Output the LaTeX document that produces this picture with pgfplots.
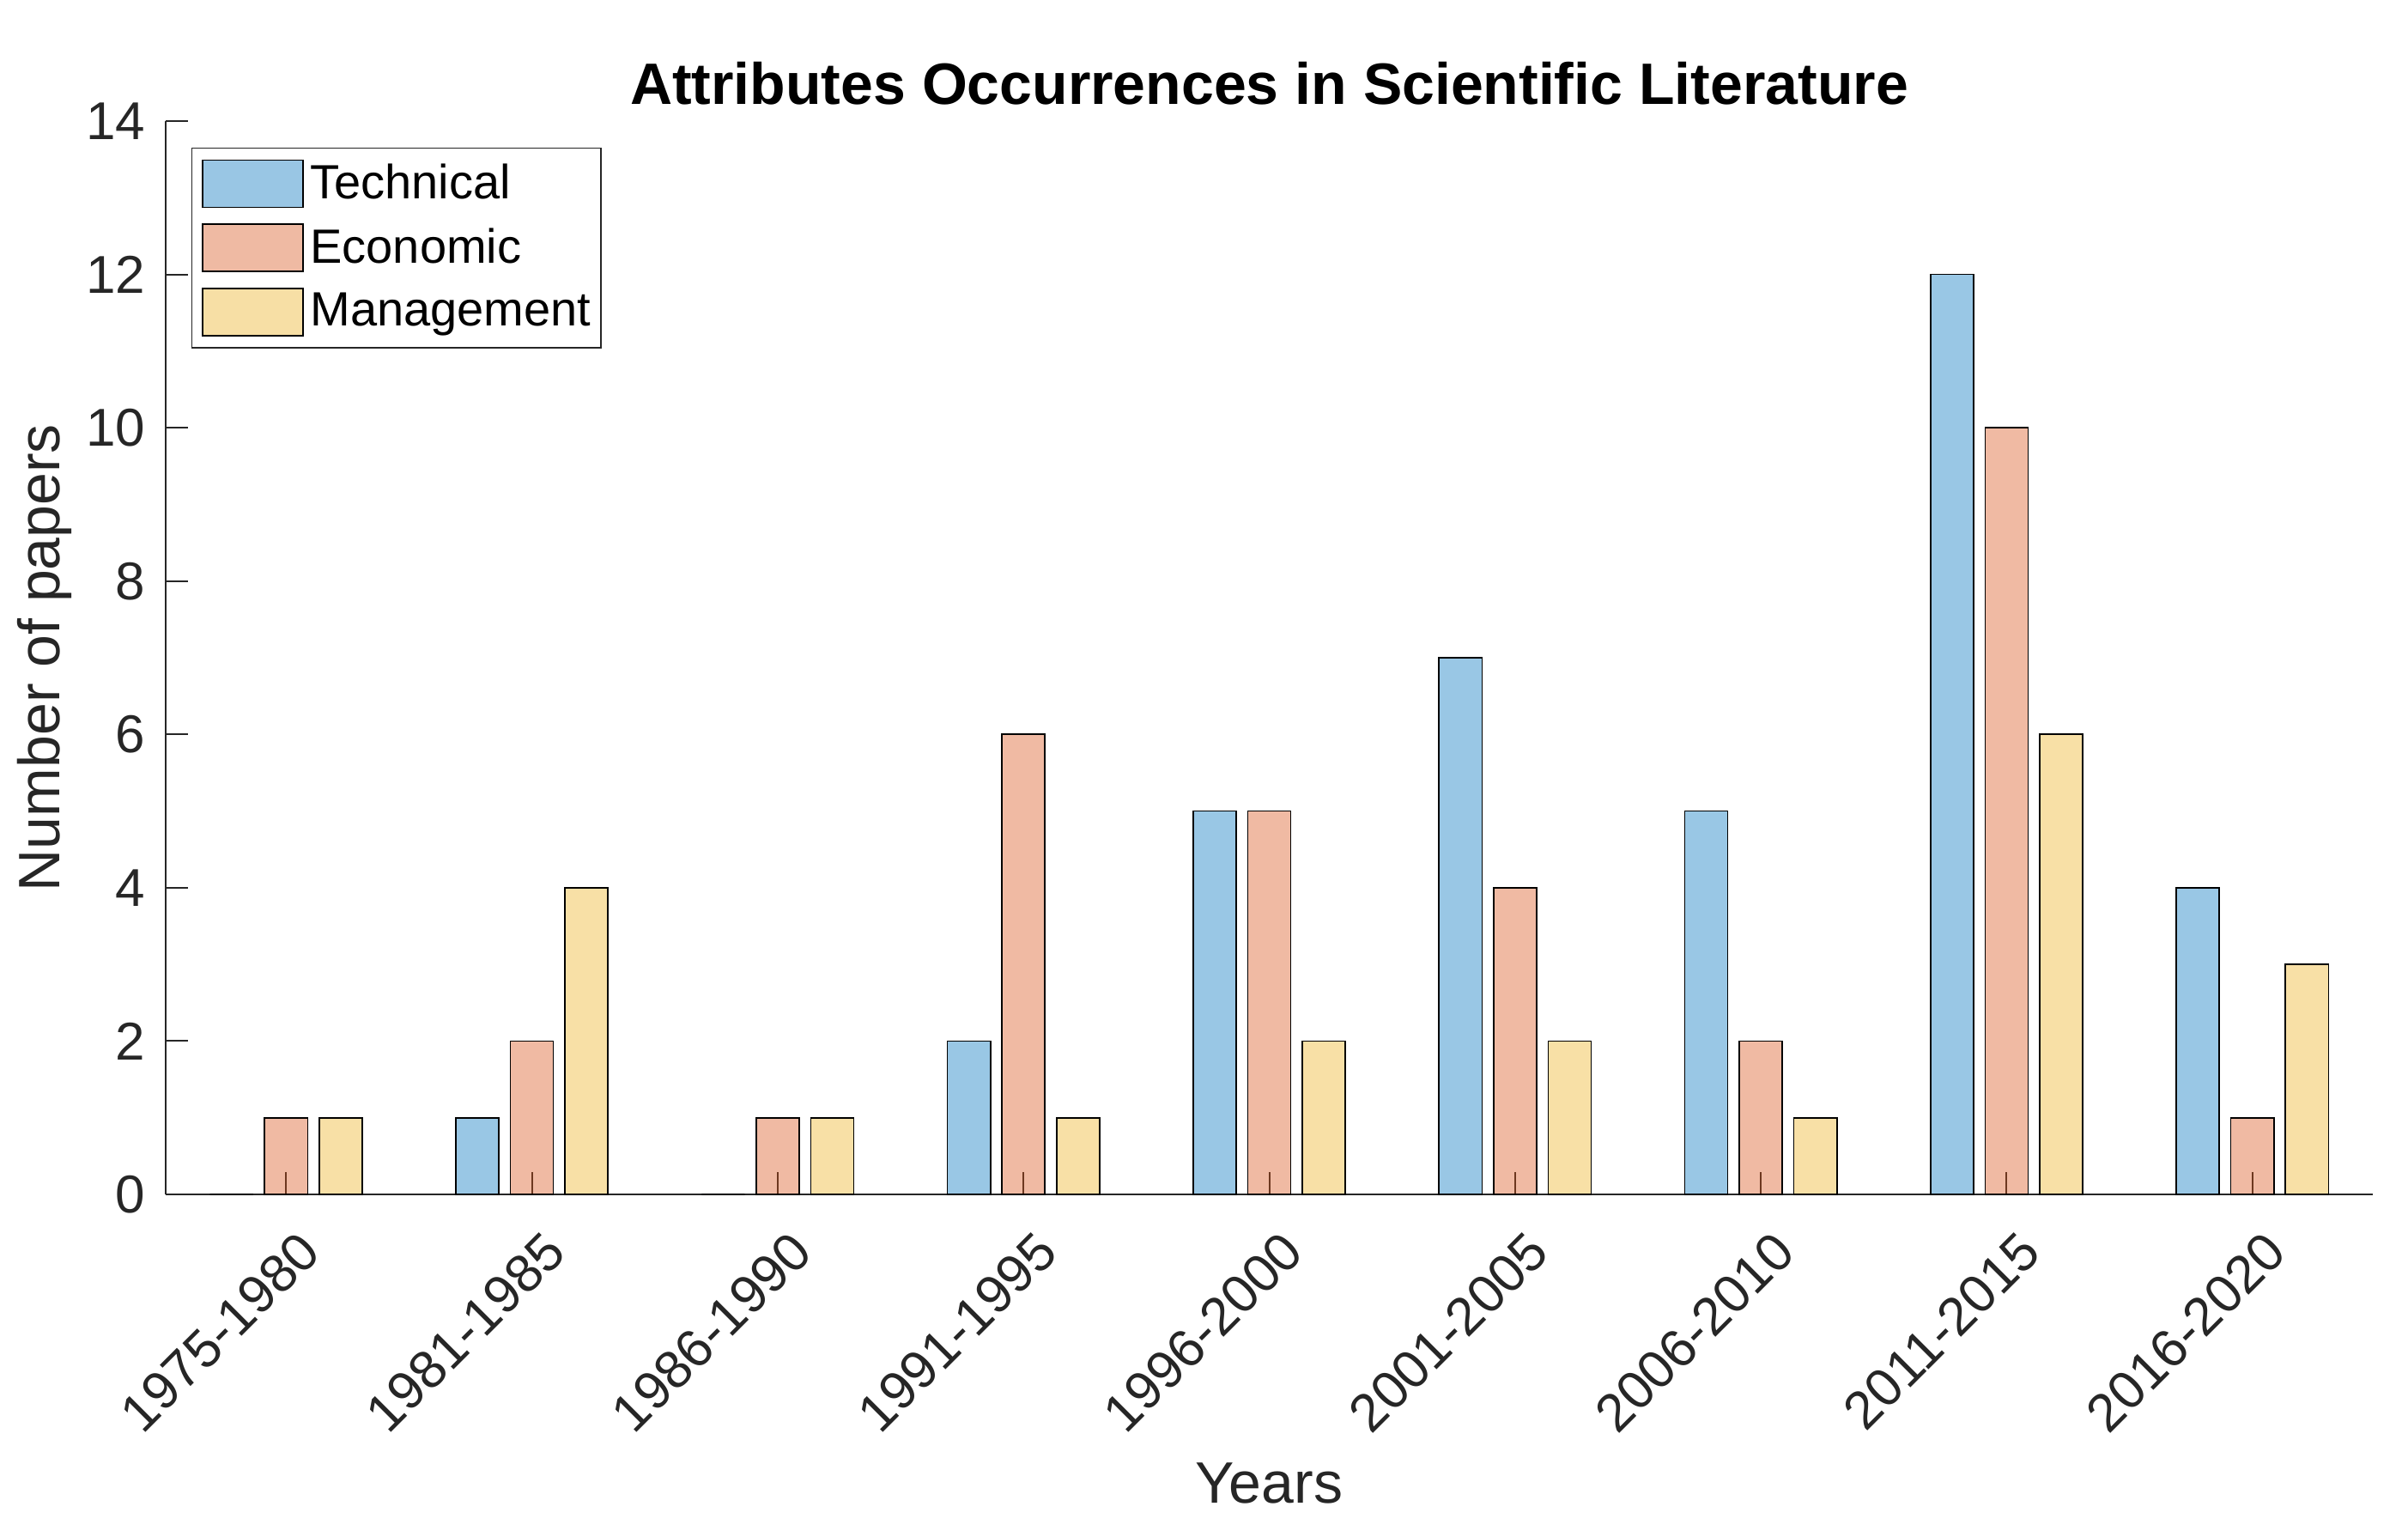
\documentclass[border=0pt]{standalone}
\usepackage{fontspec}
\setmainfont{Liberation Sans}
\usepackage{pgfplots}
\usepackage{pgfplotstable}
\pgfplotsset{compat=1.18}

\definecolor{axgray}{RGB}{38,38,38}
\definecolor{mblue}{RGB}{0,114,189}
\definecolor{morange}{RGB}{217,83,25}
\definecolor{myellow}{RGB}{237,177,32}

% papers per five-year period
\pgfplotstableread{
idx tech econ mgmt
1   0    1    1
2   1    2    4
3   0    1    1
4   2    6    1
5   5    5    2
6   7    4    2
7   5    2    1
8   12   10   6
9   4    1    3
}\papers

\begin{document}
\begin{tikzpicture}
\begin{axis}[
  name=ax,
  scale only axis,
  width=642.75pt, height=312.5pt,
  xmin=0.51, xmax=9.49,
  ymin=0, ymax=14,
  ytick={0,2,...,14},
  xtick={1,...,9},
  xticklabels={1975-1980,1981-1985,1986-1990,1991-1995,1996-2000,2001-2005,2006-2010,2011-2015,2016-2020},
  axis x line*=bottom, axis y line*=left,
  axis line style={-, draw=axgray, line width=0.5pt},
  tick align=inside,
  major tick length=6.5pt,
  tick style={draw=axgray, line width=0.5pt},
  /pgf/number format/assume math mode=true,
  tick label style={font=\fontsize{15.5}{18}\selectfont, text=axgray},
  yticklabel style={anchor=east, inner sep=0pt, xshift=-5.75pt},
  xticklabel style={inner sep=0pt, xshift=7pt, yshift=-13.75pt, rotate=45, anchor=east},
  title={Attributes Occurrences in Scientific Literature},
  title style={at={(axis description cs:0.5,1)}, anchor=base, yshift=-1.25pt,
    inner sep=0pt, font=\fontsize{17}{20}\selectfont\bfseries},
  xlabel={Years},
  xlabel style={at={(axis description cs:0.5,0)}, anchor=base, yshift=-89.75pt,
    inner sep=0pt, text=axgray, font=\fontsize{17}{20}\selectfont},
  ylabel={Number of papers},
  ylabel style={at={(axis description cs:-0.0482,0.5)}, anchor=base,
    inner sep=0pt, text=axgray, font=\fontsize{17}{20}\selectfont},
  legend cell align=left,
  legend image code/.code={\draw[#1] (0pt,-6.875pt) rectangle (29.25pt,6.875pt);},
  legend style={at={(axis description cs:0.01167,0.9752)}, anchor=north west,
    draw=axgray, line width=0.35pt, fill=white,
    inner xsep=2.9pt, inner ysep=3.3pt, row sep=4.5pt, column sep=1.9pt,
    font=\fontsize{14}{16}\selectfont, nodes={inner sep=0pt}},
]
\addplot[ybar, bar width=0.175, bar shift=-0.222, fill=mblue, fill opacity=0.4, draw=black, line width=0.4pt]
  table[x=idx, y=tech] {\papers};
\addplot[ybar, bar width=0.175, bar shift=0, fill=morange, fill opacity=0.4, draw=black, line width=0.4pt]
  table[x=idx, y=econ] {\papers};
\addplot[ybar, bar width=0.175, bar shift=0.222, fill=myellow, fill opacity=0.4, draw=black, line width=0.4pt]
  table[x=idx, y=mgmt] {\papers};
\legend{Technical, Economic, Management}
\end{axis}
\path (ax.south west) ++(-48.25pt,-99.5pt) rectangle ++(701.25pt,447.25pt);
\end{tikzpicture}
\end{document}
